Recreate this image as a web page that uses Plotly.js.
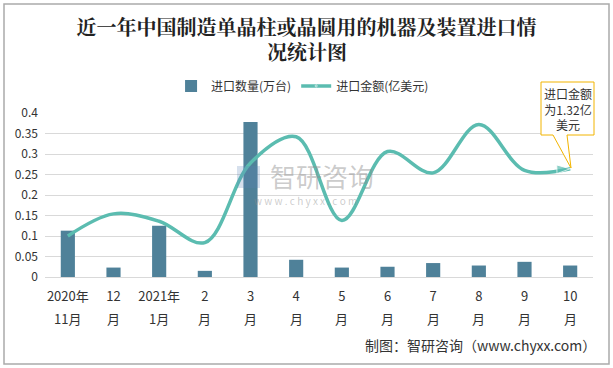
<!DOCTYPE html>
<html><head><meta charset="utf-8">
<script src="https://cdn.plot.ly/plotly-3.0.1.min.js"></script>
<style>body{margin:0;padding:0;background:#fff}#chart{width:613px;height:368px}</style>
</head><body><div id="chart"></div>
<script>
const categories = ['2020年11月','12月','2021年1月','2月','3月','4月','5月','6月','7月','8月','9月','10月'];
const tickLine1 = ['2020年','12','2021年','2','3','4','5','6','7','8','9','10'];
const tickLine2 = ['11月','月','1月','月','月','月','月','月','月','月','月','月'];
const quantity = [0.113,0.023,0.125,0.015,0.378,0.042,0.023,0.025,0.034,0.028,0.037,0.028];
const amount = [0.50,0.77,0.68,0.42,1.39,1.71,0.69,1.53,1.27,1.86,1.30,1.32];
const yTicks = [0,0.05,0.1,0.15,0.2,0.25,0.3,0.35,0.4];

const font = '"Noto Sans CJK SC", sans-serif';
const titleFont = {family:'"Noto Serif CJK SC", "Noto Sans CJK SC", serif', size:20, color:'#222'};
const n = categories.length;
const symbols = categories.map((c,i)=> i===n-1 ? 'arrow' : 'circle');
const sizes = categories.map((c,i)=> i===0 ? 11 : (i===n-1 ? 14 : 0));

const traces = [
  {type:'bar', name:'进口数量(万台)', x:categories, y:quantity, marker:{color:'#4f8199'}, width:0.31},
  {type:'scatter', mode:'lines+markers', name:'进口金额(亿美元)', x:categories, y:amount, yaxis:'y2',
   line:{color:'#5bbcb0', width:3.5, shape:'spline', smoothing:1},
   marker:{color:'#5bbcb0', symbol:symbols, size:sizes, angleref:'previous'}}
];

const X = px => (px-45)/548, Y = py => (277-py)/164;

const annotations = [
  {xref:'paper', yref:'paper', x:X(306.5), y:Y(51), xanchor:'center', yanchor:'middle', text:'<b>况统计图</b>', showarrow:false, font:titleFont},
  {xref:'paper', yref:'paper', x:X(567.5), y:Y(108.5), xanchor:'center', yanchor:'middle', text:'进口金额<br>为1.32亿<br>美元', showarrow:false, font:{size:12, color:'#333'}, align:'center'},
  {xref:'paper', yref:'paper', x:X(322), y:Y(175), xanchor:'center', yanchor:'middle', text:'智研咨询', showarrow:false, font:{size:26, color:'rgba(140,140,140,0.45)'}},
  {xref:'paper', yref:'paper', x:X(305), y:Y(200), xanchor:'center', yanchor:'middle', text:'w w w . c h y x x . c o m', showarrow:false, font:{size:10, color:'rgba(140,140,140,0.45)'}},
  {xref:'paper', yref:'paper', x:X(598), y:Y(345), xanchor:'right', yanchor:'middle', text:'制图：智研咨询（www.chyxx.com）', showarrow:false, font:{size:14, color:'#333'}}
];
categories.forEach((c,i)=>{
  annotations.push({xref:'x', yref:'paper', x:c, y:Y(318), xanchor:'center', yanchor:'middle', text:tickLine2[i], showarrow:false, font:{size:13, color:'#333'}});
});

const layout = {
  width:613, height:368,
  margin:{l:45, r:20, t:113, b:91},
  paper_bgcolor:'#fff', plot_bgcolor:'#fff',
  font:{family:font, size:12, color:'#333'},
  title:{text:'<b>近一年中国制造单晶柱或晶圆用的机器及装置进口情</b>', x:0.5, xanchor:'center', y:1-28/368, yanchor:'middle', font:titleFont},
  showlegend:true,
  legend:{orientation:'h', x:0.47, xanchor:'center', y:1.165, yanchor:'middle', font:{size:12, color:'#333'}, traceorder:'normal'},
  xaxis:{type:'category', range:[-0.5, n-0.5], tickvals:categories, ticktext:tickLine1, showgrid:false, zeroline:false, showline:false, ticks:'',
         tickfont:{size:13, color:'#333'}, ticklabelstandoff:10, automargin:false},
  yaxis:{range:[0,0.4], tickvals:yTicks, ticktext:yTicks.map(String), showgrid:true, gridcolor:'#d9d9d9', gridwidth:1,
         zeroline:true, zerolinecolor:'#d9d9d9', showline:false, ticks:'', tickfont:{size:12, color:'#333'}, ticklabelstandoff:6, automargin:false},
  yaxis2:{range:[0,2], overlaying:'y', side:'right', visible:false, automargin:false},
  shapes:[
    {type:'rect', xref:'paper', yref:'paper', x0:X(4), x1:X(609), y0:Y(364), y1:Y(4), line:{color:'#aaaaaa', width:1.5}, layer:'below'},
    {type:'path', xref:'paper', yref:'paper', layer:'above',
     path:`M ${X(541)},${Y(82)} L ${X(594)},${Y(82)} L ${X(594)},${Y(135)} L ${X(567)},${Y(135)} L ${X(571)},${Y(168)} L ${X(553)},${Y(135)} L ${X(541)},${Y(135)} Z`,
     fillcolor:'#ffffff', line:{color:'#f2b400', width:1}},
    {type:'rect', xref:'paper', yref:'paper', x0:X(237), x1:X(260), y0:Y(188), y1:Y(166), fillcolor:'rgba(90,130,185,0.25)', line:{width:0}, layer:'above'}
  ],
  annotations
};
Plotly.newPlot('chart', traces, layout, {displayModeBar:false, staticPlot:true});
</script></body></html>
